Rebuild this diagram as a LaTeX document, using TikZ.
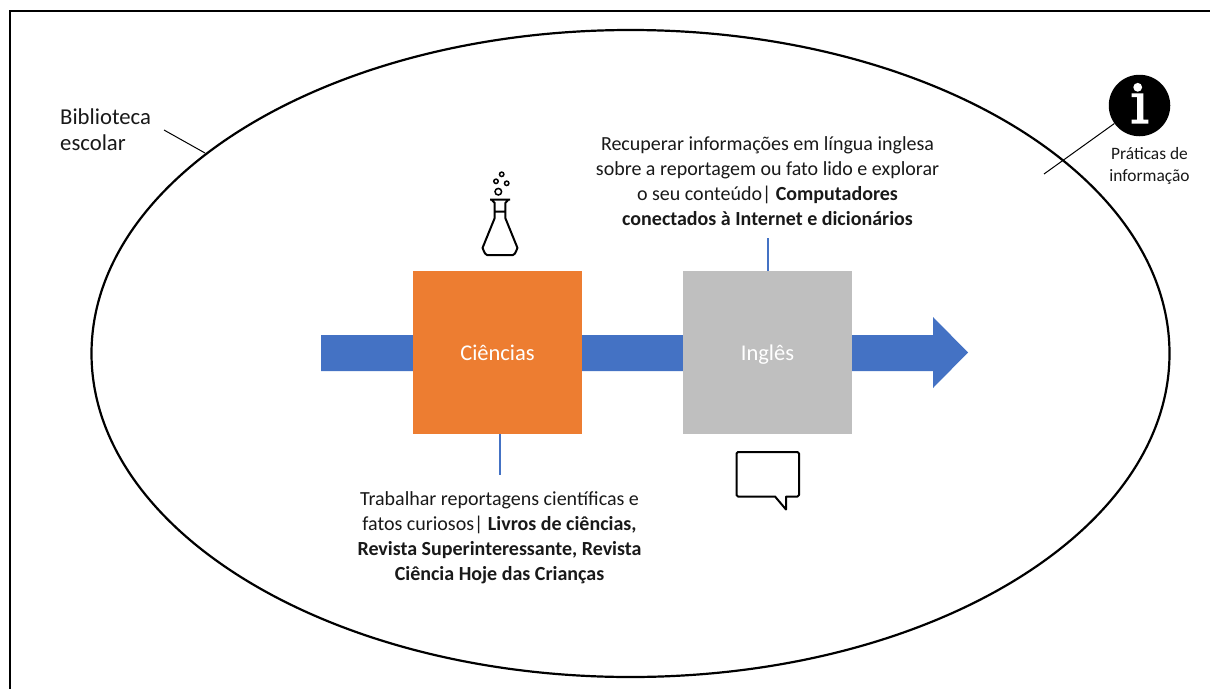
\documentclass[tikz,border=0pt]{standalone}
\usepackage{fontspec}
\setmainfont{Carlito}
\usetikzlibrary{positioning}
\definecolor{setaazul}{HTML}{4472C4}
\definecolor{laranja}{HTML}{ED7D31}
\definecolor{cinza}{HTML}{BFBFBF}
\tikzset{
  disciplina/.style={minimum width=169pt,minimum height=163pt,inner sep=0pt,text=white,text height=18pt,text depth=3pt,font=\fontsize{22.5}{26}\selectfont},
  rotulo/.style={align=center,inner xsep=0pt,text=black!90,font=\fontsize{20}{25}\selectfont},
  ligacao/.style={color=setaazul,line width=2pt},
  fio/.style={black,line width=1pt},
  icone/.style={black,line width=2pt,line join=round}
}
\begin{document}
\begin{tikzpicture}[x=1pt,y=-1pt]
  \useasboundingbox (0,0) rectangle (1210,688);
  \clip (0,0) rectangle (1210,688);
  \fill[white] (0,0) rectangle (1210,688);

  \draw[black,line width=1.6pt] (10,720) -- (10,11) -- (1240,11);
  \draw[black,line width=2.2pt] (630.5,353.5) ellipse [x radius=539,y radius=323.5];

  \fill[setaazul] (321,335) -- (933,335) -- (933,317) -- (968,352.5) -- (933,388) -- (933,371) -- (321,371) -- cycle;

  \node[disciplina,fill=laranja] (ciencias) at (497.5,352.5) {Ciências};
  \node[disciplina,fill=cinza] (ingles) at (767.5,352.5) {Inglês};

  \node[rotulo,anchor=south,inner ysep=12pt] (textoingles) at (767.5,238) {Recuperar informações em língua inglesa\\sobre a reportagem ou fato lido e explorar\\o seu conteúdo| \textbf{Computadores}\\\textbf{conectados à Internet e dicionários}};
  \node[rotulo,anchor=north,inner ysep=16pt] (textociencias) at (499.5,475) {Trabalhar reportagens científicas e\\fatos curiosos| \textbf{Livros de ciências,}\\\textbf{Revista Superinteressante, Revista}\\\textbf{Ciência Hoje das Crianças}};
  \draw[ligacao] (ciencias.south -| textociencias.north) -- (textociencias.north);
  \draw[ligacao] (ingles.north) -- (textoingles.south);

  \node[align=left,anchor=north west,inner sep=0pt,text=black!90,font=\fontsize{22.7}{26}\selectfont] (biblioteca) at (60,109) {Biblioteca\\escolar};
  \coordinate (bibinicio) at (164,130);
  \coordinate (bibfim) at (205,153);
  \draw[fio] (bibinicio) -- (bibfim);

  \node[circle,fill=black,minimum size=61.5pt,inner sep=0pt] (info) at (1139.5,105.5) {};
  \fill[white] (1137.7,87.3) circle (4.4);
  \fill[white] (1131.7,93.3) -- (1143.3,93.3) -- (1143.3,119.5) -- (1148.3,119.5) -- (1148.3,123.5) -- (1131.7,123.5) -- (1131.7,119.5) -- (1137,119.5) -- (1137,97) -- (1131.7,97) -- cycle;
  \node[align=center,inner sep=0pt,text=black!90,font=\fontsize{17.4}{22}\selectfont] (praticas) at (1149.5,165.5) {Práticas de\\informação};
  \coordinate (infofim) at (1044,174);
  \draw[fio] (info) -- (infofim);

  \draw[icone] (490,199.5) -- (510,199.5) (491.5,199.5) -- (494.7,203) -- (494.7,218) -- (482.5,248) to[out=100,in=180,looseness=0.8] (487,255) -- (513,255) to[out=0,in=80,looseness=0.8] (517.5,248) -- (505.3,218) -- (505.3,203) -- (508.5,199.5) (494.7,211.5) -- (505.3,211.5);
  \draw[black,line width=1.5pt] (498.3,191.7) circle (3.3) (496,181.3) circle (2.2) (506.7,183.3) circle (2.2) (501.7,174.3) circle (2.2);

  \draw[icone] (738,452) -- (797.5,452) -- (799,453.5) -- (799,495) -- (797.5,496.5) -- (786,496.5) -- (786,509.5) -- (775,496.5) -- (738,496.5) -- (736.5,495) -- (736.5,453.5) -- cycle;
\end{tikzpicture}
\end{document}
